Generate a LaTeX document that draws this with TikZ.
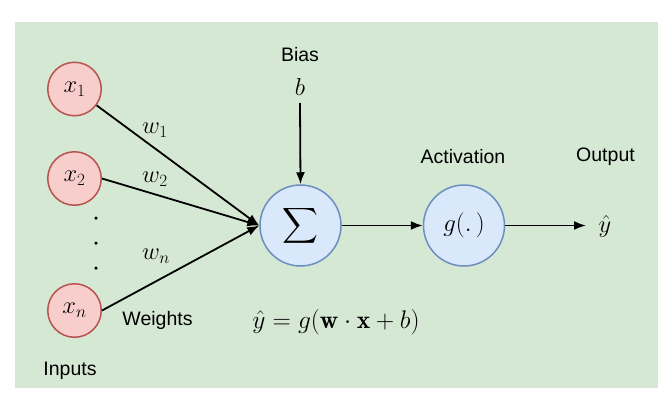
\RequirePackage{fix-cm}
\documentclass[tikz,border=0pt]{standalone}
\usepackage{exscale}
\usepackage{fontspec}
\newfontfamily\labfont{Liberation Sans}
\usetikzlibrary{arrows.meta}
\definecolor{bggreen}{HTML}{D5E8D4}
\definecolor{inred}{HTML}{B85450}
\definecolor{inredfill}{HTML}{F8CECC}
\definecolor{opblue}{HTML}{6C8EBF}
\definecolor{opbluefill}{HTML}{DAE8FC}
\begin{document}
\begin{tikzpicture}[x=1pt,y=-1pt,
  inp/.style={circle, draw=inred, fill=inredfill, line width=1.5pt, minimum size=53.5pt, inner sep=0pt, font=\fontsize{24.5}{28}\selectfont},
  op/.style={circle, draw=opblue, fill=opbluefill, line width=1.5pt, minimum size=81pt, inner sep=0pt, font=\fontsize{25}{29}\selectfont},
  lab/.style={font=\labfont\fontsize{19.5}{23}\selectfont, inner sep=0pt},
  mlab/.style={font=\fontsize{24.5}{28}\selectfont, inner sep=0pt},
  conn/.style={line width=1.8pt, -{Latex[length=12pt,width=9pt]}},
  dotmark/.style={circle, fill=black, inner sep=0pt, minimum size=3.5pt}
]
\useasboundingbox[fill=white] (0,0) rectangle (662,402);
\fill[bggreen] (15,22) rectangle (658,388);

\node[inp] (x1) at (74.5,89) {$x_1$};
\node[inp] (x2) at (74.5,178.5) {$x_2$};
\node[inp] (xn) at (74.5,310.5) {$x_n$};
\node[dotmark] (d1) at (96,218) {};
\node[dotmark] (d2) at (96,243) {};
\node[dotmark] (d3) at (96,268) {};

\node[op] (sum) at (300.5,225.5) {$\displaystyle\sum$};
\node[op] (g) at (464,225.5) {$g(.\,)$};

\node[lab] (bias) at (300,55) {Bias};
\node[mlab] (b) at (300,87) {$b$};
\coordinate (bstart) at (300,103);

\node[lab] (act) at (463,157) {Activation};
\node[lab] (out) at (605.5,157) {Output};
\node[mlab] (yhat) at (605,226) {$\hat{y}$};
\coordinate (yend) at (586,225.5);

\node[lab] (weights) at (157.5,320) {Weights};
\node[lab] (inputs) at (70,371) {Inputs};
\node[mlab, font=\fontsize{25.5}{29}\selectfont] (eq) at (336,322) {$\hat{y} = g(\mathbf{w}\cdot\mathbf{x}+b)$};

\node[mlab] (w1) at (155,130) {$w_1$};
\node[mlab] (w2) at (155,179) {$w_2$};
\node[mlab] (wn) at (156,256) {$w_n$};

\draw[conn] (x1) -- (sum.west);
\draw[conn] (x2.east) -- (sum.west);
\draw[conn] (xn.east) -- (sum.west);
\draw[conn] (bstart) -- (sum.north);
\draw[conn] (sum.east) -- (g.west);
\draw[conn] (g.east) -- (yend);
\end{tikzpicture}
\end{document}
